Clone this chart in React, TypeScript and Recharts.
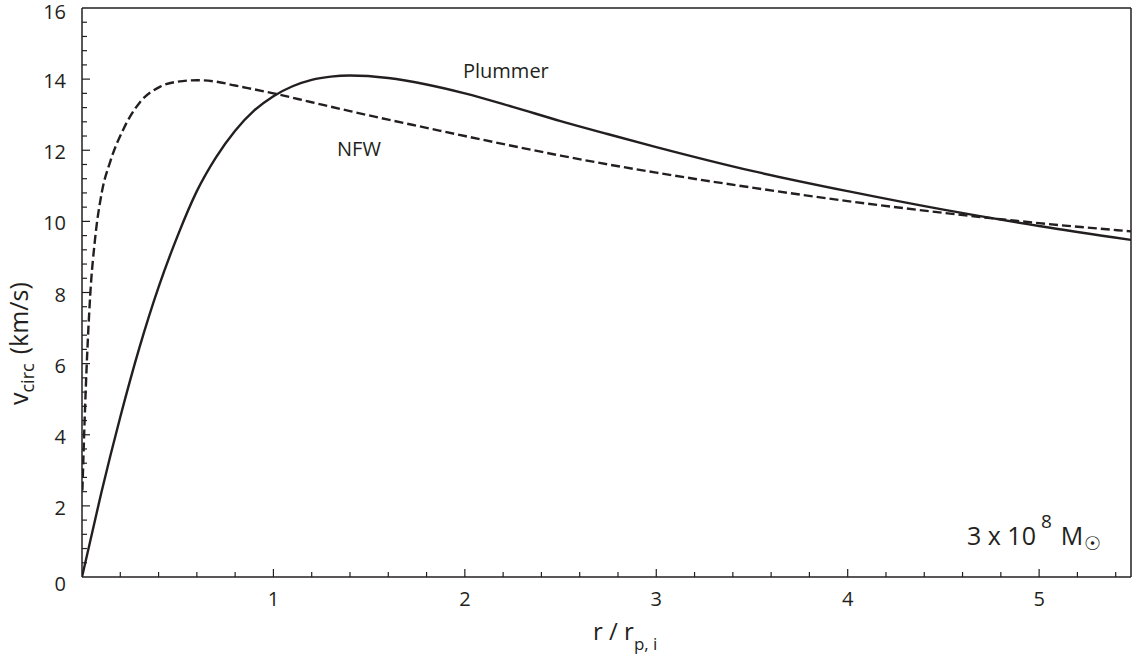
// App.tsx - curvas de velocidade circular (Plummer x NFW)
import { LineChart, Line, XAxis, YAxis, ReferenceLine, Customized } from 'recharts';

// raio em unidades de r_p,i e velocidade em km/s
const plummerR = [0, 0.1, 0.2, 0.3, 0.4, 0.5, 0.6, 0.7, 0.8, 0.9, 1.0, 1.1, 1.2, 1.3, 1.4, 1.6, 1.8, 2.0, 2.25, 2.5, 2.75, 3.0, 3.5, 4.0, 4.5, 5.0, 5.48];
const plummerV = [0, 2.35, 4.5, 6.45, 8.15, 9.6, 10.85, 11.8, 12.55, 13.12, 13.52, 13.8, 13.98, 14.07, 14.1, 14.03, 13.85, 13.6, 13.22, 12.82, 12.45, 12.09, 11.42, 10.85, 10.33, 9.87, 9.48];

const nfwR = [0.002, 0.017, 0.043, 0.069, 0.104, 0.148, 0.217, 0.304, 0.409, 0.5, 0.6, 0.7, 0.8, 1.0, 1.2, 1.4, 1.6, 1.8, 2.0, 2.25, 2.5, 2.75, 3.0, 3.5, 4.0, 4.5, 5.0, 5.48];
const nfwV = [2.43, 4.91, 7.93, 9.54, 10.83, 11.69, 12.6, 13.36, 13.79, 13.93, 13.97, 13.93, 13.82, 13.6, 13.35, 13.1, 12.86, 12.63, 12.4, 12.12, 11.85, 11.6, 11.37, 10.95, 10.57, 10.24, 9.95, 9.72];

const xMajor = [1, 2, 3, 4, 5];
const yMajor = [0, 2, 4, 6, 8, 10, 12, 14, 16];
const X_MAX = 5.48;
const Y_MAX = 16;

const INK = '#231f20';
const FONT = '"Open Sans", sans-serif';

// ticks menores: 0.2 em x, 0.4 em y
const xTicks: number[] = [];
for (let i = 1; i <= 27; i++) xTicks.push(Math.round(i * 2) / 10);
const yTicks: number[] = [];
for (let i = 0; i <= 40; i++) yTicks.push(Math.round(i * 4) / 10);

const plummer = plummerR.map((r, i) => ({ r, v: plummerV[i] }));
const nfw = nfwR.map((r, i) => ({ r, v: nfwV[i] }));

const isMajor = (v: number, list: number[]) => list.some((m) => Math.abs(m - v) < 1e-6);

const XTick = (props: any) => {
  const { x, y, payload } = props;
  const major = isMajor(payload.value, xMajor);
  return (
    <g>
      <line x1={x} x2={x} y1={y} y2={y - (major ? 8 : 5)} stroke={INK} strokeWidth={1.2} />
      {major && (
        <text x={x} y={y + 29} textAnchor="middle" fontSize={20} fontFamily={FONT} fill={INK}>
          {payload.value}
        </text>
      )}
    </g>
  );
};

const YTick = (props: any) => {
  const { x, y, payload } = props;
  const major = isMajor(payload.value, yMajor);
  const dy = payload.value === 0 ? 14 : payload.value === Y_MAX ? 11 : 9;
  return (
    <g>
      {payload.value !== 0 && payload.value !== Y_MAX && (
        <line x1={x} x2={x + (major ? 8 : 5)} y1={y} y2={y} stroke={INK} strokeWidth={1.2} />
      )}
      {major && (
        <text x={x - 16} y={y + dy} textAnchor="end" fontSize={20} fontFamily={FONT} fill={INK}>
          {payload.value}
        </text>
      )}
    </g>
  );
};

const Textos = () => (
  <g fontFamily={FONT} fill={INK}>
    <text x={463} y={78} fontSize={20}>Plummer</text>
    <text x={337} y={156} fontSize={20}>NFW</text>
    <text x={967} y={545} fontSize={25}>
      3 x 10
      <tspan dx={5} dy={-17} fontSize={19}>8</tspan>
      <tspan dx={9} dy={17}>M</tspan>
      <tspan dx={1} dy={5} fontSize={19}>☉</tspan>
    </text>
    <text x={593} y={640} fontSize={24}>
      r / r
      <tspan dy={10} fontSize={17}>p, i</tspan>
    </text>
    <text transform="translate(28, 405) rotate(-90)" fontSize={25}>
      v
      <tspan dy={6} fontSize={18}>circ</tspan>
      <tspan dx={9} dy={-6}>(km/s)</tspan>
    </text>
  </g>
);

export default function App() {
  return (
    <div style={{ position: 'absolute', left: 0, top: 0, background: '#fff' }}>
      <LineChart width={1137} height={661} margin={{ top: 8, right: 6, left: 0, bottom: 0 }}>
        <XAxis
          dataKey="r"
          type="number"
          domain={[0, X_MAX]}
          ticks={xTicks}
          tick={<XTick />}
          tickLine={false}
          tickSize={0}
          tickMargin={0}
          height={84}
          stroke={INK}
          strokeWidth={1.5}
          allowDataOverflow
          interval={0}
        />
        <YAxis
          type="number"
          domain={[0, Y_MAX]}
          ticks={yTicks}
          tick={<YTick />}
          tickLine={false}
          tickSize={0}
          tickMargin={0}
          width={82}
          stroke={INK}
          strokeWidth={1.5}
          allowDataOverflow
          interval={0}
        />
        <ReferenceLine y={Y_MAX} stroke={INK} strokeWidth={1.5} />
        <ReferenceLine x={X_MAX} stroke={INK} strokeWidth={1.5} />
        <Line
          data={nfw}
          dataKey="v"
          type="monotone"
          stroke={INK}
          strokeWidth={2.4}
          strokeDasharray="9 4"
          dot={false}
          isAnimationActive={false}
        />
        <Line
          data={plummer}
          dataKey="v"
          type="monotone"
          stroke={INK}
          strokeWidth={2.4}
          dot={false}
          isAnimationActive={false}
        />
        <Customized component={<Textos />} />
      </LineChart>
    </div>
  );
}
